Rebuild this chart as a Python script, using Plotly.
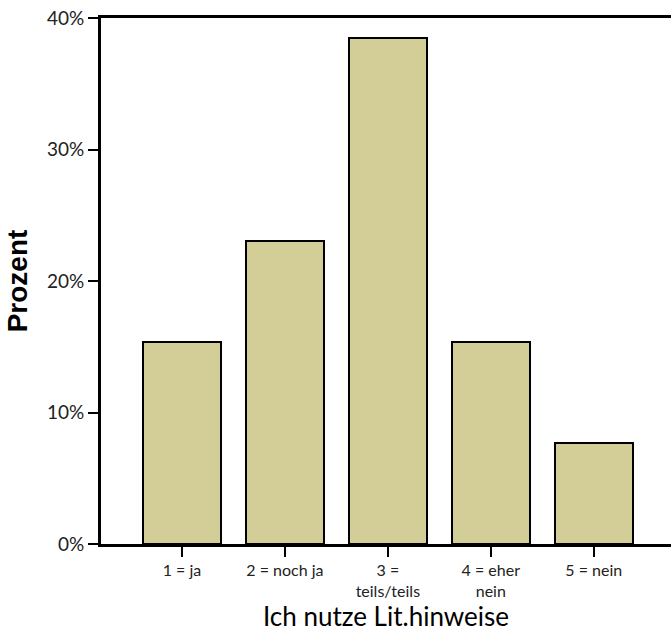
import plotly.graph_objects as go

categories = ["1 = ja", "2 = noch ja", "3 =<br>teils/teils", "4 = eher<br>nein", "5 = nein"]
percent = [15.38, 23.08, 38.46, 15.38, 7.69]
y_ticks = [0, 10, 20, 30, 40]
y_tick_labels = ["0%", "10%", "20%", "30%", "40%"]

fig = go.Figure(go.Bar(
    x=list(range(len(categories))),
    y=percent,
    width=0.757,
    marker=dict(color="#D3CE98", line=dict(color="black", width=2)),
))

fig.update_layout(
    width=671, height=633,
    margin=dict(l=101, r=0, t=18, b=89),
    plot_bgcolor="white", paper_bgcolor="white",
    showlegend=False,
    font=dict(family="Lato, Open Sans, sans-serif", color="#222", size=18),
    bargap=0,
)
fig.update_xaxes(
    range=[-0.786, 4.75],
    tickmode="array", tickvals=list(range(len(categories))), ticktext=categories,
    ticks="outside", ticklen=10, tickwidth=2, tickcolor="black",
    showline=True, linecolor="black", linewidth=3, mirror=True,
    showgrid=False, zeroline=False,
    tickfont=dict(size=16),
    title=dict(text="Ich nutze Lit.hinweise", font=dict(size=26, color="black"), standoff=5),
)
fig.update_yaxes(
    range=[0, 40],
    tickmode="array", tickvals=y_ticks, ticktext=y_tick_labels,
    ticks="outside", ticklen=10, tickwidth=2, tickcolor="black",
    showline=True, linecolor="black", linewidth=3,
    showgrid=False, zeroline=False,
    tickfont=dict(size=19),
    ticklabeloverflow="allow",
    title=dict(text="<b>Prozent</b>", font=dict(size=28, color="black", family="Liberation Sans, Arial, sans-serif"), standoff=12),
)

fig.write_html("out.html", config={"displayModeBar": False},
               post_script="document.body.style.margin='0';document.body.style.padding='0';")
